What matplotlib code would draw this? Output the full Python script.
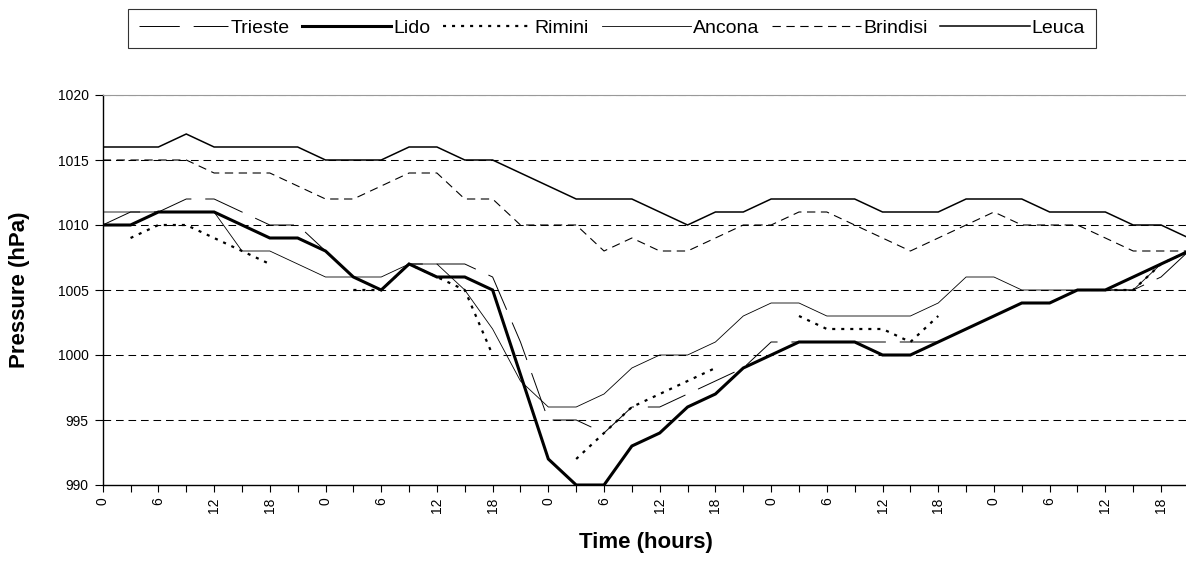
import matplotlib
matplotlib.use('Agg')
import matplotlib.pyplot as p
import numpy as n

p.rcParams['font.family'] = ['Liberation Sans', 'DejaVu Sans']
p.rcParams['lines.scale_dashes'] = False

nan = n.nan

# 3-hourly readings, 5 days (hour of day repeats 0..21)
hours = [0, 3, 6, 9, 12, 15, 18, 21] * 5

trieste = [1010, 1011, 1011, 1012, 1012, 1011, 1010, 1010, 1008, 1006,
           1005, 1007, 1007, 1007, 1006, 1001, 995, 995, 994, 996,
           996, 997, 998, 999, 1001, 1001, 1001, 1001, 1001, 1001,
           1001, 1002, 1003, 1004, 1004, 1005, 1005, 1005, 1006, 1008]
lido = [1010, 1010, 1011, 1011, 1011, 1010, 1009, 1009, 1008, 1006,
        1005, 1007, 1006, 1006, 1005, 998.5, 992, 990, 990, 993,
        994, 996, 997, 999, 1000, 1001, 1001, 1001, 1000, 1000,
        1001, 1002, 1003, 1004, 1004, 1005, 1005, 1006, 1007, 1008]
rimini = [nan, 1009, 1010, 1010, 1009, 1008, 1007, nan, nan, 1005,
          1005, 1007, 1006, 1005, 1000, nan, nan, 992, 994, 996,
          997, 998, 999, nan, nan, 1003, 1002, 1002, 1002, 1001,
          1003, nan, nan, nan, nan, nan, 1005, 1005, 1007, 1008]
ancona = [1011, 1011, 1011, 1011, 1011, 1008, 1008, 1007, 1006, 1006,
          1006, 1007, 1007, 1005, 1002, 998, 996, 996, 997, 999,
          1000, 1000, 1001, 1003, 1004, 1004, 1003, 1003, 1003, 1003,
          1004, 1006, 1006, 1005, 1005, 1005, 1005, 1005, 1007, 1008]
brindisi = [1015, 1015, 1015, 1015, 1014, 1014, 1014, 1013, 1012, 1012,
            1013, 1014, 1014, 1012, 1012, 1010, 1010, 1010, 1008, 1009,
            1008, 1008, 1009, 1010, 1010, 1011, 1011, 1010, 1009, 1008,
            1009, 1010, 1011, 1010, 1010, 1010, 1009, 1008, 1008, 1008]
leuca = [1016, 1016, 1016, 1017, 1016, 1016, 1016, 1016, 1015, 1015,
         1015, 1016, 1016, 1015, 1015, 1014, 1013, 1012, 1012, 1012,
         1011, 1010, 1011, 1011, 1012, 1012, 1012, 1012, 1011, 1011,
         1011, 1012, 1012, 1012, 1011, 1011, 1011, 1010, 1010, 1009]

names = ['Trieste', 'Lido', 'Rimini', 'Ancona', 'Brindisi', 'Leuca']
series = [trieste, lido, rimini, ancona, brindisi, leuca]

styles = [
    dict(lw=0.7, linestyle=(0, (29, 10))),
    dict(lw=2.2, linestyle='-'),
    dict(lw=1.6, linestyle=(0, (2.2, 4.3))),
    dict(lw=0.6, linestyle='-'),
    dict(lw=0.8, linestyle=(0, (6, 4))),
    dict(lw=1.1, linestyle='-'),
]

W, H = 1186, 563
fig = p.figure(figsize=(W / 100.0, H / 100.0), dpi=100)

# plot area in pixels
left, right, top, bottom = 102.7, 1188.9, 95, 485
ax = fig.add_axes([left / W, 1 - bottom / H, (right - left) / W, (bottom - top) / H])

ind = n.arange(len(hours))

### 1) grid lines first
for v in range(995, 1021, 5):
    ax.axhline(v, color='k', lw=0.75, linestyle=(0, (5.5, 3.5)), zorder=1)

### 2) the series
for name, vals, st in zip(names, series, styles):
    ax.plot(ind, vals, color='k', label=name, zorder=3,
            solid_joinstyle='miter', dash_capstyle='butt', **st)

ax.set_xlim(0, len(hours) - 1)
ax.set_ylim(990, 1020)

ax.set_xticks(ind)
ax.set_xticklabels([str(h) if h % 6 == 0 else '' for h in hours],
                   rotation=90, fontsize=10)
ax.set_yticks(range(990, 1021, 5))
ax.set_yticklabels([str(v) for v in range(990, 1021, 5)], fontsize=10)

ax.tick_params(axis='x', direction='out', length=5, width=0.8, pad=4)
ax.tick_params(axis='y', direction='out', length=6, width=0.8, pad=4)

ax.spines['right'].set_visible(False)
ax.spines['top'].set_color('#999999')
ax.spines['top'].set_linewidth(0.8)
ax.spines['left'].set_linewidth(1.0)
ax.spines['bottom'].set_linewidth(1.0)

ax.set_ylabel('Pressure (hPa)', fontsize=16, fontweight='bold', labelpad=20)
ax.set_xlabel('Time (hours)', fontsize=16, fontweight='bold', labelpad=14)

### 3) legend on top
leg = fig.legend(loc='center', bbox_to_anchor=(612.0 / W, 1 - 28.5 / H), ncol=6,
                 fontsize=14, frameon=True, fancybox=False, shadow=False,
                 handlelength=4.6, handletextpad=0.1, columnspacing=0.65,
                 borderpad=0.55)
leg.get_frame().set_edgecolor('k')
leg.get_frame().set_linewidth(0.8)

p.savefig('out.png', dpi=100)
